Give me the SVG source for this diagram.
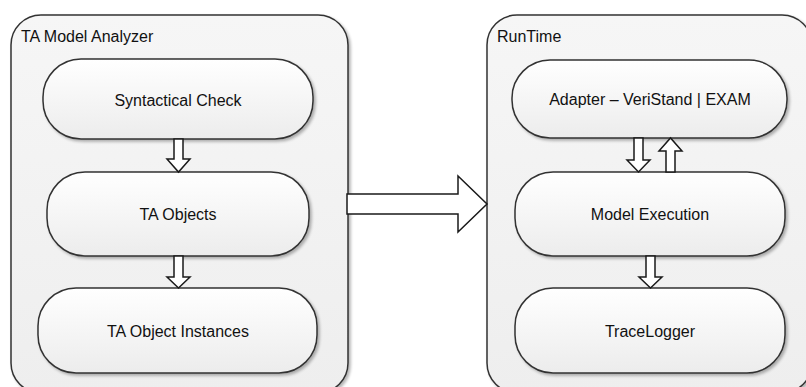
<svg xmlns="http://www.w3.org/2000/svg" width="806" height="387" viewBox="0 0 806 387">
  <style>
    .container { fill: url(#containerFill); stroke: #333333; stroke-width: 1.5; filter: url(#shadow); }
    .node { fill: url(#nodeFill); stroke: #333333; stroke-width: 1.5; filter: url(#shadow); }
    .arrow { fill: #ffffff; stroke: #1a1a1a; stroke-width: 1.5; stroke-linejoin: miter; }
    .title { font-family: "Liberation Sans", Arial, sans-serif; font-size: 16px; fill: #111111; }
    .label { font-family: "Liberation Sans", Arial, sans-serif; font-size: 16px; fill: #111111; text-anchor: middle; }
  </style>
  <defs>
    <linearGradient id="containerFill" x1="0" y1="0" x2="0" y2="1">
      <stop offset="0" stop-color="#f6f6f6"/>
      <stop offset="1" stop-color="#eeeeee"/>
    </linearGradient>
    <linearGradient id="nodeFill" x1="0" y1="0" x2="0" y2="1">
      <stop offset="0" stop-color="#ffffff"/>
      <stop offset="1" stop-color="#ececec"/>
    </linearGradient>
    <filter id="shadow" x="-10%" y="-10%" width="120%" height="130%">
      <feGaussianBlur in="SourceAlpha" stdDeviation="1.5"/>
      <feOffset dx="1.5" dy="2" result="off"/>
      <feComponentTransfer><feFuncA type="linear" slope="0.3"/></feComponentTransfer>
      <feMerge><feMergeNode/><feMergeNode in="SourceGraphic"/></feMerge>
    </filter>
  </defs>

  <rect width="806" height="387" fill="#ffffff"/>

  <!-- Analyzer group -->
  <g id="analyzer">
    <rect class="container" x="11" y="15" width="337" height="378" rx="30" ry="30"/>
    <text class="title" x="21" y="42">TA Model Analyzer</text>
  </g>

  <!-- Runtime group -->
  <g id="runtime">
    <rect class="container" x="487" y="15" width="325" height="378" rx="30" ry="30"/>
    <text class="title" x="497" y="42">RunTime</text>
  </g>

  <g id="syntactical-check">
    <rect class="node" x="43" y="59" width="270" height="80" rx="38" ry="38"/>
    <text class="label" x="178" y="106">Syntactical Check</text>
  </g>
  <g id="ta-objects">
    <rect class="node" x="47" y="172" width="262" height="84" rx="38" ry="38"/>
    <text class="label" x="178" y="220">TA Objects</text>
  </g>
  <g id="ta-object-instances">
    <rect class="node" x="38" y="288" width="279" height="85" rx="38" ry="38"/>
    <text class="label" x="178" y="337">TA Object Instances</text>
  </g>

  <g id="adapter">
    <rect class="node" x="512" y="60" width="275" height="78" rx="38" ry="38"/>
    <text class="label" x="650" y="105">Adapter – VeriStand | EXAM</text>
  </g>
  <g id="model-execution">
    <rect class="node" x="515" y="172" width="270" height="84" rx="38" ry="38"/>
    <text class="label" x="650" y="220">Model Execution</text>
  </g>
  <g id="tracelogger">
    <rect class="node" x="515" y="288" width="270" height="85" rx="38" ry="38"/>
    <text class="label" x="650" y="337">TraceLogger</text>
  </g>

  <!-- block-arrow connectors -->
  <g id="connectors">
    <polygon class="arrow" points="174,139 183,139 183,159 190,159 178.5,172 167,159 174,159"/>
    <polygon class="arrow" points="174,256 183,256 183,277 190,277 178.5,288 167,277 174,277"/>
    <polygon class="arrow" points="634,138 643,138 643,160 650,160 638.5,172 627,160 634,160"/>
    <polygon class="arrow" points="666,172 675,172 675,151 682,151 670.5,138 659,151 666,151"/>
    <polygon class="arrow" points="646,256 655,256 655,277 662,277 650.5,288 639,277 646,277"/>
    <polygon class="arrow" points="347,194 458,194 458,176 487,204 458,232 458,214 347,214"/>
  </g>
</svg>
